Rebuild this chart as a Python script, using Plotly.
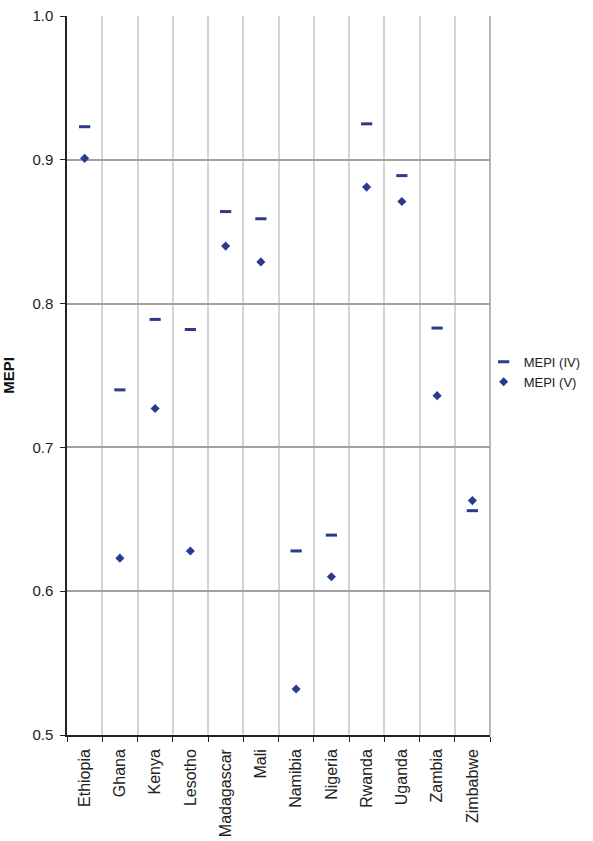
import plotly.graph_objects as go

countries = ["Ethiopia", "Ghana", "Kenya", "Lesotho", "Madagascar", "Mali",
             "Namibia", "Nigeria", "Rwanda", "Uganda", "Zambia", "Zimbabwe"]
mepi_iv = [0.923, 0.740, 0.789, 0.782, 0.864, 0.859, 0.628, 0.639, 0.925, 0.889, 0.783, 0.656]
mepi_v = [0.901, 0.623, 0.727, 0.628, 0.840, 0.829, 0.532, 0.610, 0.881, 0.871, 0.736, 0.663]
y_ticks = [0.5, 0.6, 0.7, 0.8, 0.9, 1.0]

navy = "#2B3990"
font = "Liberation Sans, Arial, sans-serif"

fig = go.Figure()
fig.add_trace(go.Scatter(
    x=countries, y=mepi_iv, mode="markers", name="MEPI (IV)",
    marker=dict(symbol="line-ew", size=8, color=navy, line=dict(color=navy, width=3)),
))
fig.add_trace(go.Scatter(
    x=countries, y=mepi_v, mode="markers", name="MEPI (V)",
    marker=dict(symbol="diamond", size=7, color=navy, line=dict(width=0)),
))

fig.update_layout(
    width=593, height=841,
    margin=dict(l=67, r=103, t=16, b=106, autoexpand=False),
    paper_bgcolor="white", plot_bgcolor="white",
    font=dict(family=font, size=13, color="#222"),
    legend=dict(x=0.985, y=0.505, xanchor="left", yanchor="middle",
                font=dict(size=13, family=font, color="#222"),
                itemwidth=30, tracegroupgap=0, bgcolor="rgba(0,0,0,0)"),
    xaxis=dict(
        type="category", tickson="boundaries", range=[-0.5, 11.5],
        showgrid=True, gridcolor="#D4D4D4", gridwidth=1.5,
        showline=True, linecolor="#222", linewidth=1.5,
        ticks="outside", ticklen=5, tickcolor="#222",
        ticklabelstandoff=6,
        tickangle=-90, tickfont=dict(size=16, family=font, color="#222"),
        zeroline=False,
    ),
    yaxis=dict(
        range=[0.5, 1.0], tickvals=y_ticks, tickformat=".1f",
        showgrid=True, gridcolor="#A0A0A0", gridwidth=1.5,
        showline=True, linecolor="#222", linewidth=1.5,
        ticks="outside", ticklen=5, tickcolor="#222",
        ticklabelstandoff=4,
        tickfont=dict(size=15, family=font, color="#222"),
        title=dict(text="<b>MEPI</b>", font=dict(size=15, family=font, color="#111"), standoff=14),
        zeroline=False,
    ),
)
fig.add_shape(type="line", xref="paper", yref="paper", x0=1, x1=1, y0=0, y1=1,
              line=dict(color="#A0A0A0", width=1.5))

fig.write_html("out.html")
